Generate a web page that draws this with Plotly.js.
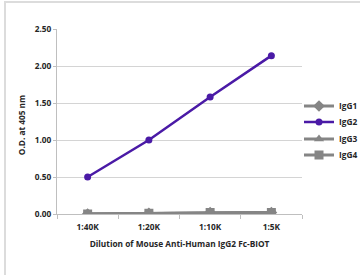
<!DOCTYPE html>
<html><head><meta charset="utf-8">
<script src="https://cdn.plot.ly/plotly-3.0.1.min.js"></script>
<style>
html,body{margin:0;padding:0;background:#fff;}
#frame{position:absolute;left:4px;top:1px;width:400px;height:300px;border-left:2px solid #dcdcdc;border-top:2px solid #dcdcdc;}
#chart{position:absolute;left:0;top:0;width:360px;height:275px;}
</style></head>
<body>
<div id="frame"></div>
<div id="chart"></div>
<script>
const categories = ["1:40K","1:20K","1:10K","1:5K"];
const igg1 = [0.00, 0.01, 0.02, 0.02];
const igg2 = [0.50, 1.00, 1.58, 2.14];
const igg3 = [0.00, 0.01, 0.02, 0.02];
const igg4 = [0.00, 0.01, 0.02, 0.02];
const seriesNames = ["IgG1","IgG2","IgG3","IgG4"];
const yTicks = [0, 0.5, 1.0, 1.5, 2.0, 2.5];
const yTickText = ["0.00","0.50","1.00","1.50","2.00","2.50"];
const xTitle = "Dilution of Mouse Anti-Human IgG2 Fc-BIOT";
const yTitle = "O.D. at 405 nm";

const gray = "#858585";
const fnt = {family:"Open Sans, sans-serif", size:8.3, color:"#262626", weight:"bold"};
const legendKeys = ["legend","legend2","legend3","legend4"];
const traces = [
  {x:categories, y:igg1, name:seriesNames[0], legend:legendKeys[0], mode:"lines+markers", line:{color:gray,width:3}, marker:{symbol:"diamond",size:9,color:gray}},
  {x:categories, y:igg2, name:seriesNames[1], legend:legendKeys[1], mode:"lines+markers", line:{color:"#4a1aa6",width:2.5}, marker:{symbol:"circle",size:7,color:"#4a1aa6"}},
  {x:categories, y:igg3, name:seriesNames[2], legend:legendKeys[2], mode:"lines+markers", line:{color:gray,width:3}, marker:{symbol:"triangle-up",size:9,color:gray}},
  {x:categories, y:igg4, name:seriesNames[3], legend:legendKeys[3], mode:"lines+markers", line:{color:gray,width:3}, marker:{symbol:"square",size:9,color:gray}}
];
// legend entry centre rows (px from top of figure)
const legendRowsPx = [106, 122, 139, 155];
const layout = {
  width:360, height:275,
  margin:{l:57, r:58, t:29, b:61, autoexpand:false},
  paper_bgcolor:"rgba(0,0,0,0)", plot_bgcolor:"rgba(0,0,0,0)",
  showlegend:true,
  xaxis:{type:"category", range:[-0.5,3.5], showgrid:false, showline:true, linecolor:"#bfbfbf", linewidth:1,
    ticks:"outside", tickson:"boundaries", ticklen:4, tickcolor:"#bfbfbf", tickfont:fnt, ticklabelstandoff:5,
    title:{text:xTitle, font:fnt, standoff:10}, zeroline:false, fixedrange:true, automargin:false},
  yaxis:{range:[0,2.5], tickvals:yTicks, ticktext:yTickText, showgrid:true, gridcolor:"#d4d4d4", gridwidth:1,
    showline:true, linecolor:"#bfbfbf", ticks:"outside", ticklen:3, tickcolor:"#bfbfbf", tickfont:fnt,
    zeroline:false, fixedrange:true, automargin:false},
  annotations:[{text:yTitle, textangle:-90, xref:"paper", yref:"paper", x:-0.147, y:0.48, xanchor:"center", yanchor:"middle", showarrow:false, font:fnt}]
};
legendKeys.forEach((k,i)=>{
  layout[k] = {xref:"container", yref:"container", x:299/360, xanchor:"left", y:(275-legendRowsPx[i])/275, yanchor:"middle", font:fnt, bgcolor:"rgba(0,0,0,0)"};
});
Plotly.newPlot("chart", traces, layout, {displayModeBar:false, staticPlot:true});
</script>
</body></html>
